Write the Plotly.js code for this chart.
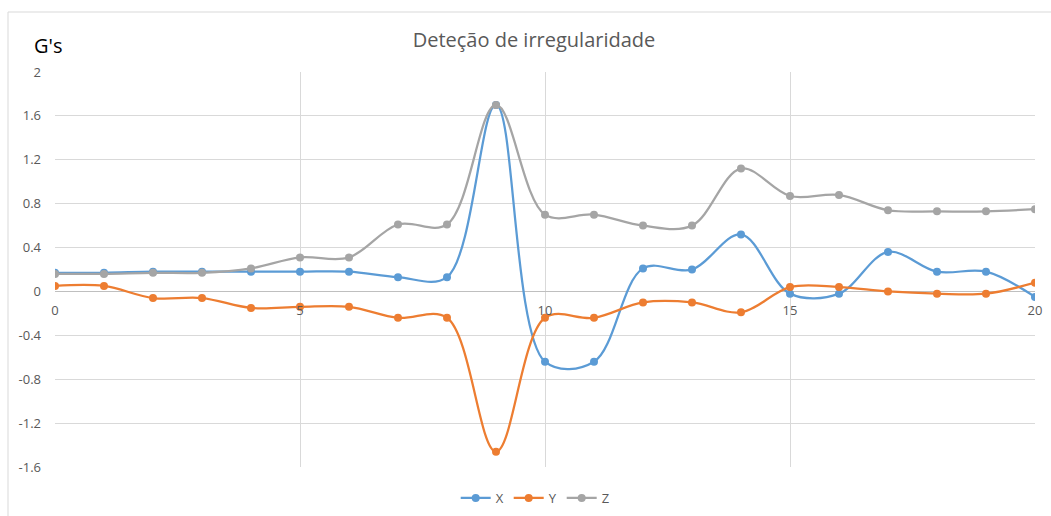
<!DOCTYPE html>
<html>
<head>
<meta charset="utf-8">
<script src="https://cdn.plot.ly/plotly-3.0.1.min.js"></script>
<style>html,body{margin:0;padding:0;background:#fff;}#chart{width:1051px;height:516px;}</style>
</head>
<body>
<div id="chart"></div>
<script>
const xValues = [0,1,2,3,4,5,6,7,8,9,10,11,12,13,14,15,16,17,18,19,20];
const seriesX = [0.17,0.17,0.18,0.18,0.18,0.18,0.18,0.13,0.13,1.70,-0.64,-0.64,0.21,0.20,0.52,-0.02,-0.02,0.36,0.18,0.18,-0.05];
const seriesY = [0.05,0.05,-0.06,-0.06,-0.15,-0.14,-0.14,-0.24,-0.24,-1.46,-0.24,-0.24,-0.10,-0.10,-0.19,0.04,0.04,0.00,-0.02,-0.02,0.08];
const seriesZ = [0.16,0.16,0.17,0.17,0.21,0.31,0.31,0.61,0.61,1.70,0.70,0.70,0.60,0.60,1.12,0.87,0.88,0.74,0.73,0.73,0.75];
const seriesNames = ["X","Y","Z"];
const seriesColors = ["#5B9BD5","#ED7D31","#A5A5A5"];
const xTickVals = [0,5,10,15,20];
const xTickText = ["0","5","10","15","20"];
const yTickVals = [-1.6,-1.2,-0.8,-0.4,0,0.4,0.8,1.2,1.6,2];
const yTickText = ["-1.6","-1.2","-0.8","-0.4","0","0.4","0.8","1.2","1.6","2"];
const chartTitle = "Deteção de irregularidade";
const yLabel = "G's";

const FONT = "Open Sans, Noto Sans, sans-serif";
const allSeries = [seriesX, seriesY, seriesZ];
const traces = allSeries.map((s, i) => ({
  x: xValues, y: s, name: seriesNames[i], type: "scatter", mode: "lines+markers",
  line: {color: seriesColors[i], width: 2.25, shape: "spline", smoothing: 1},
  marker: {color: seriesColors[i], size: 8}
}));

const W = 1051, H = 516, L = 55, R = 16, T = 72, B = 49;
const pw = W - L - R, ph = H - T - B;
const ymin = -1.6, ymax = 2;

const layout = {
  width: W, height: H,
  margin: {l: L, r: R, t: T, b: B, pad: 0, autoexpand: false},
  paper_bgcolor: "#fff", plot_bgcolor: "#fff",
  font: {family: FONT, color: "#595959", size: 13},
  title: {text: chartTitle, font: {family: FONT, size: 20, color: "#595959"},
          x: (534 - L) / pw, xref: "paper", xanchor: "center", y: 1 - 40/H, yref: "container", yanchor: "middle"},
  showlegend: true,
  legend: {orientation: "h", x: 0.49, xanchor: "center", y: -(498 - (T + ph)) / ph, yanchor: "middle",
           font: {family: FONT, size: 13, color: "#595959"}, tracegroupgap: 0},
  xaxis: {
    range: [0, 20], tickvals: xTickVals, ticktext: xTickText,
    anchor: "free", position: (0 - ymin) / (ymax - ymin),
    showgrid: true, gridcolor: "#d9d9d9", gridwidth: 1,
    showline: false, zeroline: false, ticks: "", ticklabelstandoff: 10,
    tickfont: {family: FONT, size: 13, color: "#595959"}
  },
  yaxis: {
    range: [ymin, ymax], tickvals: yTickVals, ticktext: yTickText,
    showgrid: true, gridcolor: "#d9d9d9", gridwidth: 1,
    zeroline: true, zerolinecolor: "#bfbfbf", zerolinewidth: 1,
    showline: false, ticks: "", ticklabelstandoff: 13,
    tickfont: {family: FONT, size: 13, color: "#595959"}
  },
  annotations: [
    {text: yLabel, xref: "paper", yref: "paper", x: (48 - L) / pw, y: 1 + (T - 45) / ph,
     xanchor: "center", yanchor: "middle", showarrow: false,
     font: {family: FONT, size: 20, color: "#000"}}
  ],
  shapes: [
    {type: "line", xref: "paper", yref: "paper", x0: (8 - L) / pw, x1: (8 - L) / pw, y0: 1 + (T - 12) / ph, y1: -(H - T - ph) / ph - 0.05,
     line: {color: "#d9d9d9", width: 1}},
    {type: "line", xref: "paper", yref: "paper", x0: (8 - L) / pw, x1: 1 + R / pw + 0.05, y0: 1 + (T - 12) / ph, y1: 1 + (T - 12) / ph,
     line: {color: "#d9d9d9", width: 1}}
  ]
};

Plotly.newPlot("chart", traces, layout, {displayModeBar: false, staticPlot: true});
</script>
</body>
</html>
